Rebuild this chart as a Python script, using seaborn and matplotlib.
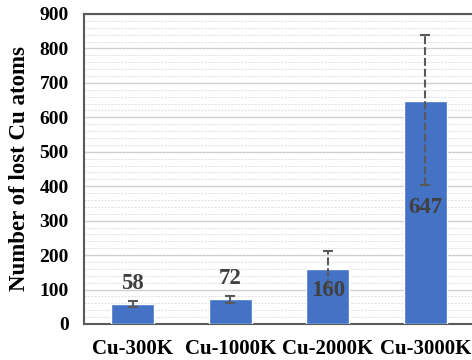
import matplotlib
matplotlib.use("Agg")
import matplotlib.pyplot as plt
import seaborn as sns
import numpy as np
import pandas as pd
from matplotlib.ticker import MultipleLocator

categories = ["Cu-300K", "Cu-1000K", "Cu-2000K", "Cu-3000K"]
values = [58, 72, 160, 647]
err_low = [10, 11, 53, 244]
err_high = [10, 9, 53, 192]
label_pos = ["outside", "outside", "center", "center"]

sns.set_theme(style="white")
plt.rcParams["font.family"] = ["Liberation Serif", "DejaVu Serif"]
plt.rcParams["font.weight"] = "bold"

fig = plt.figure(figsize=(4.72, 3.60), dpi=100)
ax = fig.add_axes([84/472, 1 - 324/360, 390/472, 310/360])

df = pd.DataFrame({"cat": categories, "val": values})
sns.barplot(data=df, x="cat", y="val", color="#4472C4", saturation=1,
            width=0.44, errorbar=None, ax=ax, zorder=3)

xs = np.arange(len(categories))
eb = ax.errorbar(xs, values, yerr=[err_low, err_high], fmt="none",
                 ecolor="#595959", elinewidth=1.5, capsize=3.5, capthick=1.5,
                 zorder=4)
eb[2][0].set_linestyle((0, (3.8, 1.4)))

for x, v, eh, pos in zip(xs, values, err_high, label_pos):
    if pos == "outside":
        ax.annotate(str(v), (x, v + eh), xytext=(0, 5), textcoords="offset points",
                    ha="center", va="bottom", fontsize=16.5, fontweight="bold",
                    color="#404040", zorder=5)
    else:
        ax.annotate(str(v), (x, v / 2), xytext=(0, 4), textcoords="offset points",
                    ha="center", va="center", fontsize=16.5, fontweight="bold",
                    color="#404040", zorder=5)

ax.set_ylim(0, 900)
ax.set_xlim(-0.5, 3.5)
ax.yaxis.set_major_locator(MultipleLocator(100))
ax.yaxis.set_minor_locator(MultipleLocator(20))
ax.grid(axis="y", which="major", color="#d0d0d0", linewidth=1.0, zorder=0)
ax.grid(axis="y", which="minor", color="#e4e4e4", linewidth=0.8,
        linestyle=(0, (2, 1)), zorder=0)
ax.set_axisbelow(True)

ax.set_xlabel("")
ax.set_ylabel("Number of lost Cu atoms", fontsize=16.5, fontweight="bold",
              color="black", labelpad=7)
ax.tick_params(axis="y", which="both", length=0, pad=11, labelsize=14)
ax.tick_params(axis="x", length=0, pad=11, labelsize=15)
for lab in ax.get_xticklabels() + ax.get_yticklabels():
    lab.set_fontweight("bold")
    lab.set_color("black")

for s in ax.spines.values():
    s.set_visible(True)
    s.set_color("#595959")
    s.set_linewidth(1.5)

fig.savefig("out.png", dpi=100)
